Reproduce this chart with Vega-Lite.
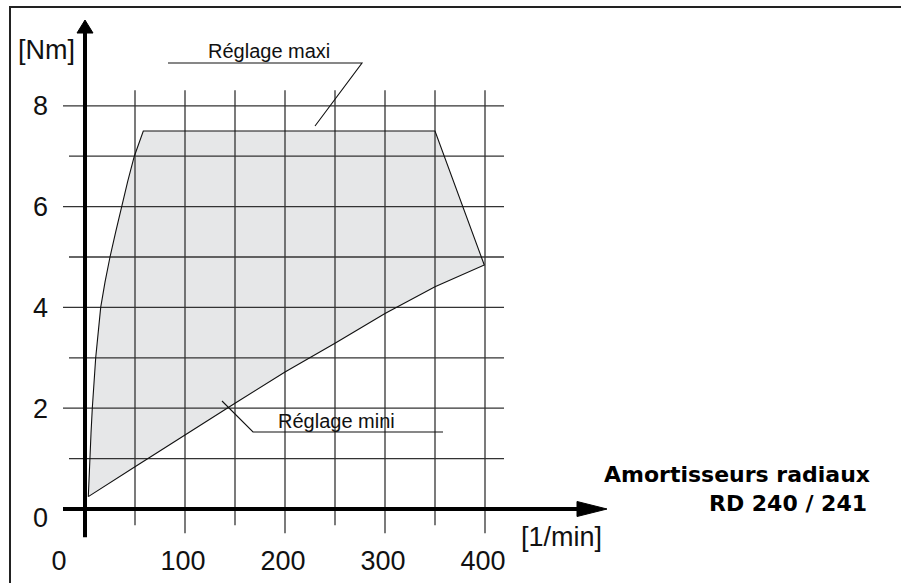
{
  "$schema": "https://vega.github.io/schema/vega-lite/v6.json",
  "width": 900,
  "height": 580,
  "autosize": {"type": "none"},
  "padding": {"left": 10, "top": 7, "right": 0, "bottom": 0},
  "background": "white",
  "config": {"view": {"stroke": "#222", "strokeWidth": 2}},
  "datasets": {
    "region": [
      {"i": 1, "x": 3.3, "y": 0.245},
      {"i": 2, "x": 5, "y": 1.03},
      {"i": 3, "x": 6, "y": 1.5},
      {"i": 4, "x": 7.3, "y": 2},
      {"i": 5, "x": 10.7, "y": 3},
      {"i": 6, "x": 15.7, "y": 4},
      {"i": 7, "x": 20, "y": 4.5},
      {"i": 8, "x": 25, "y": 5},
      {"i": 9, "x": 30.7, "y": 5.5},
      {"i": 10, "x": 36.7, "y": 6},
      {"i": 11, "x": 42.7, "y": 6.5},
      {"i": 12, "x": 49.3, "y": 7},
      {"i": 13, "x": 58.3, "y": 7.5},
      {"i": 14, "x": 350, "y": 7.5},
      {"i": 15, "x": 399.3, "y": 4.84},
      {"i": 16, "x": 350, "y": 4.41},
      {"i": 17, "x": 300, "y": 3.88},
      {"i": 18, "x": 250, "y": 3.29},
      {"i": 19, "x": 200, "y": 2.72},
      {"i": 20, "x": 150, "y": 2.1},
      {"i": 21, "x": 100, "y": 1.47},
      {"i": 22, "x": 50, "y": 0.84},
      {"i": 23, "x": 3.3, "y": 0.245}
    ],
    "hgrid": [
      {"y": 1, "x1": -16, "x2": 419},
      {"y": 2, "x1": -22, "x2": 419},
      {"y": 3, "x1": -16, "x2": 419},
      {"y": 4, "x1": -22, "x2": 419},
      {"y": 5, "x1": -16, "x2": 419},
      {"y": 6, "x1": -22, "x2": 419},
      {"y": 7, "x1": -16, "x2": 419},
      {"y": 8, "x1": -22, "x2": 419}
    ],
    "vgrid": [
      {"x": 50, "y1": -0.32, "y2": 8.31},
      {"x": 100, "y1": -0.48, "y2": 8.31},
      {"x": 150, "y1": -0.32, "y2": 8.31},
      {"x": 200, "y1": -0.48, "y2": 8.31},
      {"x": 250, "y1": -0.32, "y2": 8.31},
      {"x": 300, "y1": -0.48, "y2": 8.31},
      {"x": 350, "y1": -0.32, "y2": 8.31},
      {"x": 400, "y1": -0.48, "y2": 8.31}
    ],
    "axes": [
      {"x": -22, "x2": 495, "y": 0, "y2": 0},
      {"x": 0, "x2": 0, "y": -0.56, "y2": 9.5}
    ],
    "arrows": [
      {"id": "x", "i": 1, "x": 492, "y": -0.149},
      {"id": "x", "i": 2, "x": 522, "y": 0},
      {"id": "x", "i": 3, "x": 492, "y": 0.149},
      {"id": "x", "i": 4, "x": 492, "y": -0.149},
      {"id": "y", "i": 1, "x": -8, "y": 9.444},
      {"id": "y", "i": 2, "x": 0, "y": 9.702},
      {"id": "y", "i": 3, "x": 8, "y": 9.444},
      {"id": "y", "i": 4, "x": -8, "y": 9.444}
    ],
    "leaders": [
      {"id": "maxi", "i": 1, "x": 83, "y": 8.849},
      {"id": "maxi", "i": 2, "x": 277, "y": 8.849},
      {"id": "maxi", "i": 3, "x": 230, "y": 7.599},
      {"id": "mini", "i": 1, "x": 137, "y": 2.143},
      {"id": "mini", "i": 2, "x": 168, "y": 1.528},
      {"id": "mini", "i": 3, "x": 358, "y": 1.528}
    ],
    "ylabels": [
      {"label": "8", "v": 8},
      {"label": "6", "v": 6},
      {"label": "4", "v": 4},
      {"label": "2", "v": 2}
    ],
    "ylabel0": [{"label": "0", "v": 0}],
    "xlabels": [
      {"label": "100", "v": 100},
      {"label": "200", "v": 200},
      {"label": "300", "v": 300},
      {"label": "400", "v": 400}
    ],
    "xlabel0": [{"label": "0", "v": 0}],
    "units": [
      {"text": "[Nm]", "x": -38.5, "y": 8.93},
      {"text": "[1/min]", "x": 476.5, "y": -0.73}
    ],
    "notes": [
      {"text": "Réglage maxi", "x": 123, "y": 8.948},
      {"text": "Réglage mini", "x": 193, "y": 1.607}
    ],
    "titles": [
      {"text": "Amortisseurs radiaux", "x": 785, "y": 0.536},
      {"text": "RD 240 / 241", "x": 782, "y": -0.04}
    ]
  },
  "layer": [
    {
      "data": {"name": "region"},
      "mark": {"type": "line", "filled": true, "fill": "#e6e7e8", "stroke": null, "strokeWidth": 0},
      "encoding": {
        "x": {"field": "x", "type": "quantitative", "scale": {"domain": [-75, 825], "nice": false, "zero": false}, "axis": null},
        "y": {"field": "y", "type": "quantitative", "scale": {"domain": [-1.5476, 9.9603], "nice": false, "zero": false}, "axis": null},
        "order": {"field": "i"}
      }
    },
    {
      "data": {"name": "hgrid"},
      "mark": {"type": "rule", "color": "#333", "strokeWidth": 1.3},
      "encoding": {
        "x": {"field": "x1", "type": "quantitative", "scale": {"domain": [-75, 825], "nice": false, "zero": false}, "axis": null},
        "x2": {"field": "x2"},
        "y": {"field": "y", "type": "quantitative", "scale": {"domain": [-1.5476, 9.9603], "nice": false, "zero": false}, "axis": null}
      }
    },
    {
      "data": {"name": "vgrid"},
      "mark": {"type": "rule", "color": "#333", "strokeWidth": 1.3},
      "encoding": {
        "x": {"field": "x", "type": "quantitative", "scale": {"domain": [-75, 825], "nice": false, "zero": false}, "axis": null},
        "y": {"field": "y1", "type": "quantitative", "scale": {"domain": [-1.5476, 9.9603], "nice": false, "zero": false}, "axis": null},
        "y2": {"field": "y2"}
      }
    },
    {
      "data": {"name": "region"},
      "mark": {"type": "line", "color": "#111", "strokeWidth": 1.1},
      "encoding": {
        "x": {"field": "x", "type": "quantitative", "scale": {"domain": [-75, 825], "nice": false, "zero": false}, "axis": null},
        "y": {"field": "y", "type": "quantitative", "scale": {"domain": [-1.5476, 9.9603], "nice": false, "zero": false}, "axis": null},
        "order": {"field": "i"}
      }
    },
    {
      "data": {"name": "axes"},
      "mark": {"type": "rule", "color": "#000", "strokeWidth": 4},
      "encoding": {
        "x": {"field": "x", "type": "quantitative", "scale": {"domain": [-75, 825], "nice": false, "zero": false}, "axis": null},
        "x2": {"field": "x2"},
        "y": {"field": "y", "type": "quantitative", "scale": {"domain": [-1.5476, 9.9603], "nice": false, "zero": false}, "axis": null},
        "y2": {"field": "y2"}
      }
    },
    {
      "data": {"name": "arrows"},
      "mark": {"type": "line", "filled": true, "fill": "#000", "stroke": "#000", "strokeWidth": 1},
      "encoding": {
        "x": {"field": "x", "type": "quantitative", "scale": {"domain": [-75, 825], "nice": false, "zero": false}, "axis": null},
        "y": {"field": "y", "type": "quantitative", "scale": {"domain": [-1.5476, 9.9603], "nice": false, "zero": false}, "axis": null},
        "detail": {"field": "id"},
        "order": {"field": "i"}
      }
    },
    {
      "data": {"name": "leaders"},
      "mark": {"type": "line", "color": "#111", "strokeWidth": 1.1},
      "encoding": {
        "x": {"field": "x", "type": "quantitative", "scale": {"domain": [-75, 825], "nice": false, "zero": false}, "axis": null},
        "y": {"field": "y", "type": "quantitative", "scale": {"domain": [-1.5476, 9.9603], "nice": false, "zero": false}, "axis": null},
        "detail": {"field": "id"},
        "order": {"field": "i"}
      }
    },
    {
      "data": {"name": "ylabels"},
      "mark": {"type": "text", "font": "Liberation Sans", "fontSize": 27, "align": "center", "baseline": "middle", "dy": 1.5, "color": "#111"},
      "encoding": {
        "x": {"datum": -44.5, "type": "quantitative", "scale": {"domain": [-75, 825], "nice": false, "zero": false}, "axis": null},
        "y": {"field": "v", "type": "quantitative", "scale": {"domain": [-1.5476, 9.9603], "nice": false, "zero": false}, "axis": null},
        "text": {"field": "label"}
      }
    },
    {
      "data": {"name": "ylabel0"},
      "mark": {"type": "text", "font": "Liberation Sans", "fontSize": 27, "align": "center", "baseline": "middle", "dy": 9.5, "color": "#111"},
      "encoding": {
        "x": {"datum": -44.5, "type": "quantitative", "scale": {"domain": [-75, 825], "nice": false, "zero": false}, "axis": null},
        "y": {"field": "v", "type": "quantitative", "scale": {"domain": [-1.5476, 9.9603], "nice": false, "zero": false}, "axis": null},
        "text": {"field": "label"}
      }
    },
    {
      "data": {"name": "xlabels"},
      "mark": {"type": "text", "font": "Liberation Sans", "fontSize": 27, "align": "center", "baseline": "middle", "dx": -2, "dy": 1.5, "color": "#111"},
      "encoding": {
        "x": {"field": "v", "type": "quantitative", "scale": {"domain": [-75, 825], "nice": false, "zero": false}, "axis": null},
        "y": {"datum": -1.03, "type": "quantitative", "scale": {"domain": [-1.5476, 9.9603], "nice": false, "zero": false}, "axis": null},
        "text": {"field": "label"}
      }
    },
    {
      "data": {"name": "xlabel0"},
      "mark": {"type": "text", "font": "Liberation Sans", "fontSize": 27, "align": "center", "baseline": "middle", "dx": -26, "dy": 1.5, "color": "#111"},
      "encoding": {
        "x": {"field": "v", "type": "quantitative", "scale": {"domain": [-75, 825], "nice": false, "zero": false}, "axis": null},
        "y": {"datum": -1.03, "type": "quantitative", "scale": {"domain": [-1.5476, 9.9603], "nice": false, "zero": false}, "axis": null},
        "text": {"field": "label"}
      }
    },
    {
      "data": {"name": "units"},
      "mark": {"type": "text", "font": "Liberation Sans", "fontSize": 27, "align": "center", "baseline": "alphabetic", "color": "#111"},
      "encoding": {
        "x": {"field": "x", "type": "quantitative", "scale": {"domain": [-75, 825], "nice": false, "zero": false}, "axis": null},
        "y": {"field": "y", "type": "quantitative", "scale": {"domain": [-1.5476, 9.9603], "nice": false, "zero": false}, "axis": null},
        "text": {"field": "text"}
      }
    },
    {
      "data": {"name": "notes"},
      "mark": {"type": "text", "font": "Liberation Sans", "fontSize": 20, "align": "left", "baseline": "alphabetic", "color": "#111"},
      "encoding": {
        "x": {"field": "x", "type": "quantitative", "scale": {"domain": [-75, 825], "nice": false, "zero": false}, "axis": null},
        "y": {"field": "y", "type": "quantitative", "scale": {"domain": [-1.5476, 9.9603], "nice": false, "zero": false}, "axis": null},
        "text": {"field": "text"}
      }
    },
    {
      "data": {"name": "titles"},
      "mark": {"type": "text", "font": "DejaVu Sans", "fontSize": 22, "fontWeight": "bold", "align": "right", "baseline": "alphabetic", "color": "#000"},
      "encoding": {
        "x": {"field": "x", "type": "quantitative", "scale": {"domain": [-75, 825], "nice": false, "zero": false}, "axis": null},
        "y": {"field": "y", "type": "quantitative", "scale": {"domain": [-1.5476, 9.9603], "nice": false, "zero": false}, "axis": null},
        "text": {"field": "text"}
      }
    }
  ]
}
